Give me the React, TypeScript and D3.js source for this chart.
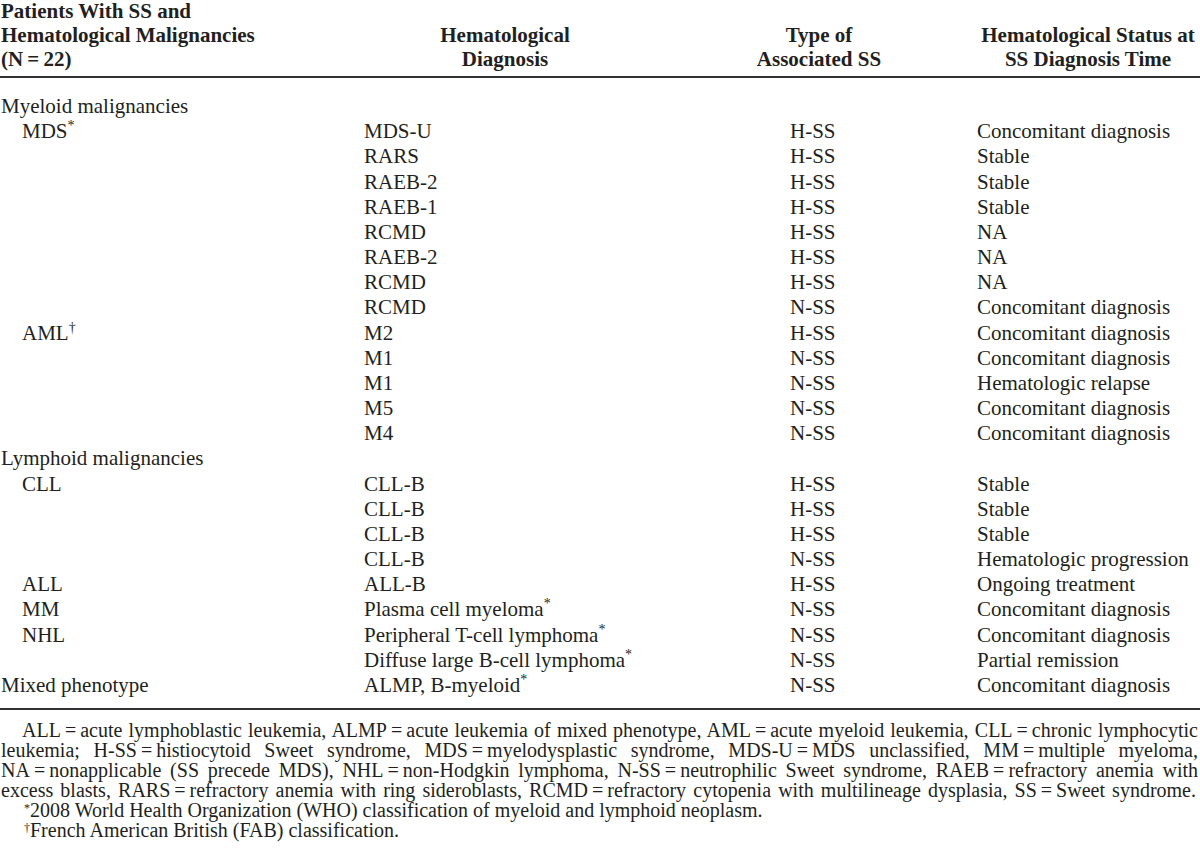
import React, { useEffect, useRef } from "react";
import * as d3 from "d3";

const T = "\u2009=\u2009";

const headerCol1 = ["Patients With SS and", "Hematological Malignancies", `(N${T}22)`];
const headerCol2 = ["Hematological", "Diagnosis"];
const headerCol3 = ["Type of", "Associated SS"];
const headerCol4 = ["Hematological Status at", "SS Diagnosis Time"];

// col1: [label, indent level, superscript]
const groupLabels: [string, number, string][] = [
  ["Myeloid malignancies", 0, ""],
  ["MDS", 1, "*"],
  ["", 1, ""], ["", 1, ""], ["", 1, ""], ["", 1, ""], ["", 1, ""], ["", 1, ""], ["", 1, ""],
  ["AML", 1, "\u2020"],
  ["", 1, ""], ["", 1, ""], ["", 1, ""], ["", 1, ""],
  ["Lymphoid malignancies", 0, ""],
  ["CLL", 1, ""],
  ["", 1, ""], ["", 1, ""], ["", 1, ""],
  ["ALL", 1, ""],
  ["MM", 1, ""],
  ["NHL", 1, ""],
  ["", 1, ""],
  ["Mixed phenotype", 0, ""],
];

const diagnoses: [string, string][] = [
  ["", ""],
  ["MDS-U", ""], ["RARS", ""], ["RAEB-2", ""], ["RAEB-1", ""], ["RCMD", ""], ["RAEB-2", ""], ["RCMD", ""], ["RCMD", ""],
  ["M2", ""], ["M1", ""], ["M1", ""], ["M5", ""], ["M4", ""],
  ["", ""],
  ["CLL-B", ""], ["CLL-B", ""], ["CLL-B", ""], ["CLL-B", ""],
  ["ALL-B", ""],
  ["Plasma cell myeloma", "*"],
  ["Peripheral T-cell lymphoma", "*"],
  ["Diffuse large B-cell lymphoma", "*"],
  ["ALMP, B-myeloid", "*"],
];

const ssTypes = [
  "",
  "H-SS", "H-SS", "H-SS", "H-SS", "H-SS", "H-SS", "H-SS", "N-SS",
  "H-SS", "N-SS", "N-SS", "N-SS", "N-SS",
  "",
  "H-SS", "H-SS", "H-SS", "N-SS",
  "H-SS", "N-SS", "N-SS", "N-SS", "N-SS",
];

const statuses = [
  "",
  "Concomitant diagnosis", "Stable", "Stable", "Stable", "NA", "NA", "NA", "Concomitant diagnosis",
  "Concomitant diagnosis", "Concomitant diagnosis", "Hematologic relapse", "Concomitant diagnosis", "Concomitant diagnosis",
  "",
  "Stable", "Stable", "Stable", "Hematologic progression",
  "Ongoing treatment", "Concomitant diagnosis", "Concomitant diagnosis", "Partial remission", "Concomitant diagnosis",
];

const footLines: [string, string][] = [
  ["", `ALL${T}acute lymphoblastic leukemia, ALMP${T}acute leukemia of mixed phenotype, AML${T}acute myeloid leukemia, CLL${T}chronic lymphocytic`],
  ["", `leukemia; H-SS${T}histiocytoid Sweet syndrome, MDS${T}myelodysplastic syndrome, MDS-U${T}MDS unclassified, MM${T}multiple myeloma,`],
  ["", `NA${T}nonapplicable (SS precede MDS), NHL${T}non-Hodgkin lymphoma, N-SS${T}neutrophilic Sweet syndrome, RAEB${T}refractory anemia with`],
  ["", `excess blasts, RARS${T}refractory anemia with ring sideroblasts, RCMD${T}refractory cytopenia with multilineage dysplasia, SS${T}Sweet syndrome.`],
  ["*", "2008 World Health Organization (WHO) classification of myeloid and lymphoid neoplasm."],
  ["\u2020", "French American British (FAB) classification."],
];
const footJustify = [1198, 1198, 1198, 1196, 0, 0];
const footX = [22, 1, 1, 1, 24, 24];

const W = 1200;
const H = 854;
const FONT = "'Liberation Serif', 'Times New Roman', serif";
const INK = "#231f20";

export default function App() {
  const footRef = useRef<SVGGElement>(null);

  const y = d3.scaleLinear().domain([0, groupLabels.length - 1]).range([113, 692]);
  const hy = d3.scaleLinear().domain([0, 2]).range([18, 66]);
  const fy = d3.scaleLinear().domain([0, footLines.length - 1]).range([737, 837]);
  const indent = d3.scaleOrdinal<number, number>().domain([0, 1]).range([1, 22]);

  const col2X = 364;
  const col3X = 790;
  const col4X = 977;

  useEffect(() => {
    if (!footRef.current) return;
    d3.select(footRef.current)
      .selectAll<SVGTextElement, unknown>("text.just")
      .each(function () {
        const el = this as SVGTextElement;
        const target = +(el.getAttribute("data-target") || 0);
        const x0 = +(el.getAttribute("x") || 0);
        if (!target) return;
        el.setAttribute("word-spacing", "0");
        const natural = el.getComputedTextLength();
        const txt = el.textContent || "";
        const spaces = (txt.match(/ /g) || []).length;
        if (spaces > 0) {
          const ws = (target - x0 - natural) / spaces;
          el.setAttribute("word-spacing", String(ws));
        }
      });
  }, []);

  return (
    <svg
      width={W}
      height={H}
      style={{ position: "absolute", left: 0, top: 0, background: "#fff" }}
      fontFamily={FONT}
      fill={INK}
    >
      <rect x={0} y={0} width={W} height={H} fill="#fff" />
      {/* header */}
      <g fontWeight="bold" fontSize={21}>
        {headerCol1.map((t, i) => (
          <text key={"h1" + i} x={1} y={hy(i)}>{t}</text>
        ))}
        {headerCol2.map((t, i) => (
          <text key={"h2" + i} x={505} y={hy(i + 1)} textAnchor="middle">{t}</text>
        ))}
        {headerCol3.map((t, i) => (
          <text key={"h3" + i} x={819} y={hy(i + 1)} textAnchor="middle">{t}</text>
        ))}
        {headerCol4.map((t, i) => (
          <text key={"h4" + i} x={1088} y={hy(i + 1)} textAnchor="middle">{t}</text>
        ))}
      </g>
      <line x1={0} x2={W} y1={77} y2={77} stroke="#333" strokeWidth={2} />

      {/* body */}
      <g fontSize={21}>
        {groupLabels.map(([t, lvl, sup], i) =>
          t ? (
            <text key={"c1" + i} x={indent(lvl)} y={y(i)}>
              {t}
              {sup ? <tspan fontSize={14} dy={-8}>{sup}</tspan> : null}
            </text>
          ) : null
        )}
        {diagnoses.map(([t, sup], i) =>
          t ? (
            <text key={"c2" + i} x={col2X} y={y(i)}>
              {t}
              {sup ? <tspan fontSize={14} dy={-8}>{sup}</tspan> : null}
            </text>
          ) : null
        )}
        {ssTypes.map((t, i) =>
          t ? (
            <text key={"c3" + i} x={col3X} y={y(i)}>{t}</text>
          ) : null
        )}
        {statuses.map((t, i) =>
          t ? (
            <text key={"c4" + i} x={col4X} y={y(i)}>{t}</text>
          ) : null
        )}
      </g>
      <line x1={0} x2={W} y1={709} y2={709} stroke="#333" strokeWidth={2} />

      {/* footnotes */}
      <g ref={footRef} fontSize={20}>
        {footLines.map(([sup, t], i) =>
          sup ? (
            <g key={"f" + i}>
              <text x={footX[i]} y={fy(i) - 5} fontSize={12}>{sup}</text>
              <text x={footX[i] + 6} y={fy(i)}>{t}</text>
            </g>
          ) : (
            <text
              key={"f" + i}
              className="just"
              data-target={footJustify[i]}
              x={footX[i]}
              y={fy(i)}
            >
              {t}
            </text>
          )
        )}
      </g>
    </svg>
  );
}
